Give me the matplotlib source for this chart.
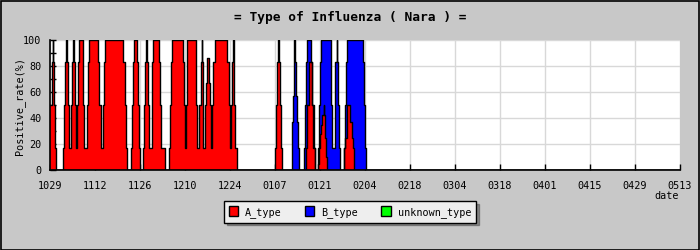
import numpy as np
import matplotlib
matplotlib.use("Agg")
import matplotlib.pyplot as plt
from matplotlib.patches import Patch, Rectangle

# days counted from 10/29, value = positive rate (%) holding until next break
a_days = [0.0, 0.6, 0.85, 0.95, 1.35, 1.6, 1.85,
          4.15, 4.45, 4.75, 5.05, 5.15, 5.6, 5.8,
          6.0, 6.45, 6.75, 7.25, 7.35, 7.7, 8.0,
          8.3, 8.5, 8.7, 9.1, 10.15, 10.35, 10.65,
          10.95, 11.5, 11.8, 12.25, 15.05, 15.35, 15.85,
          16.2, 16.4, 16.8, 17.2, 22.8, 23.25, 23.65, 24.05,
          25.1, 25.55, 25.95, 26.25, 27.2, 27.4, 27.7, 28.0,
          29.05, 29.35, 29.55, 29.95, 30.05, 30.6, 30.8,
          31.45, 31.6, 31.75, 32.15, 33.95, 34.25, 34.55, 35.85,
          37.05, 37.35, 37.6, 38.1, 41.5, 41.75, 41.95,
          42.15, 42.35, 42.5, 42.75, 45.35, 45.55, 45.8,
          46.3, 46.5, 46.95, 47.25, 47.35, 47.55, 47.75,
          47.95, 48.35, 48.65, 48.95, 49.35, 49.85, 50.15,
          50.35, 50.55, 50.85, 51.4, 55.2, 55.7, 56.05,
          56.25, 56.45, 56.75, 57.05, 57.2, 57.4, 57.7, 58.15,
          70.05, 70.35, 70.65, 71.05, 71.2, 71.55, 71.85, 72.15,
          79.65, 80.05, 80.45, 81.5, 81.95, 82.55,
          83.35, 83.65, 84.05, 84.35, 84.75, 85.15, 85.25, 85.65, 85.95, 86.15,
          91.35, 91.85, 92.25, 92.45, 93.45, 93.85, 94.15, 94.45, 196.0]
a_vals = [50, 83, 100, 83, 50, 17, 0,
          17, 50, 83, 100, 83, 50, 17,
          17, 50, 83, 100, 83, 50, 17,
          17, 50, 83, 100, 83, 50, 17,
          17, 50, 83, 100, 83, 50, 17,
          17, 50, 83, 100, 83, 50, 17, 0,
          17, 50, 83, 100, 83, 50, 17, 0,
          17, 50, 83, 100, 83, 50, 17,
          17, 50, 83, 100, 83, 50, 17, 0,
          17, 50, 83, 100, 83, 50, 17,
          17, 50, 83, 100, 83, 50, 17,
          17, 50, 83, 100, 83, 50, 17,
          17, 50, 67, 86, 67, 50, 17,
          17, 50, 83, 100, 83, 50, 17,
          17, 50, 83, 100, 83, 50, 17, 0,
          17, 50, 83, 100, 83, 50, 17, 0,
          17, 50, 83, 50, 17, 0,
          5, 17, 28, 35, 42, 50, 42, 25, 10, 0,
          17, 25, 37, 50, 37, 25, 17, 0, 0]

b_days = [0.0,
          75.15, 75.4, 75.6, 75.8, 76.0, 76.1, 76.55, 76.85, 77.15, 77.45,
          79.15, 79.45, 79.65, 80.05, 81.05, 81.65, 82.05, 82.35,
          83.25, 83.55, 83.85, 84.3, 87.3, 87.55, 87.85,
          88.25, 88.55, 88.75, 89.15, 89.25, 89.65, 89.95, 90.15,
          91.35, 91.65, 91.95, 92.25, 97.35, 97.55, 97.85, 98.25, 196.0]
b_vals = [0,
          17, 37, 57, 83, 100, 83, 57, 37, 17, 0,
          17, 50, 83, 100, 83, 50, 17, 0,
          17, 50, 83, 100, 83, 50, 17,
          17, 50, 83, 100, 83, 50, 17, 0,
          17, 50, 83, 100, 83, 50, 17, 0, 0]

u_days = [0.0, 196.0]
u_vals = [0, 0]

tick_labels = ["1029", "1112", "1126", "1210", "1224", "0107", "0121",
               "0204", "0218", "0304", "0318", "0401", "0415", "0429", "0513"]

MONO = "DejaVu Sans Mono"
BG = "#c8c8c8"

fig = plt.figure(figsize=(7, 2.5), dpi=100, facecolor=BG)
ax = fig.add_axes([50 / 700, 80 / 250, 630 / 700, 130 / 250])
ax.set_facecolor("white")

series = [
    (u_days, u_vals, "#00ff00"),
    (b_days, b_vals, "#0000ff"),
    (a_days, a_vals, "#ff0000"),
]
for days, vals, color in series:
    ax.fill_between(days, vals, step="post", color=color, linewidth=0, zorder=2)
    ax.step(days, vals, where="post", color="black", linewidth=1.0, zorder=3)

ax.set_xlim(0, 196)
ax.set_ylim(0, 100)
ax.set_xticks(np.arange(0, 197, 14))
ax.set_xticklabels(tick_labels, family=MONO, fontsize=7.3)
ax.set_yticks(np.arange(0, 101, 20))
ax.set_yticks(np.arange(0, 101, 10), minor=True)
ax.set_yticklabels([str(v) for v in range(0, 101, 20)], family=MONO, fontsize=7.3)
ax.tick_params(direction="in", length=4, width=1, color="black")
ax.tick_params(axis="y", which="minor", direction="in", length=4, width=1)
ax.tick_params(axis="x", pad=8)
ax.tick_params(axis="y", pad=6)

ax.grid(True, which="major", color="#d8d8d8", linewidth=1)
ax.set_axisbelow(True)
for side in ("top", "right"):
    ax.spines[side].set_visible(False)
for side in ("left", "bottom"):
    ax.spines[side].set_linewidth(1.2)
    ax.spines[side].set_zorder(4)

fig.text(0.5, 1 - 18 / 250, "= Type of Influenza ( Nara ) =", ha="center",
         va="center", family=MONO, fontsize=9.3, fontweight="bold")
fig.text(20 / 700, 1 - 106 / 250, "Positive_rate(%)", rotation=90,
         ha="center", va="center", family=MONO, fontsize=7.3)
fig.text(679 / 700, 1 - 196 / 250, "date", ha="right", va="center",
         family=MONO, fontsize=7.3)

handles = [
    Patch(facecolor="#ff0000", edgecolor="black", label="A_type"),
    Patch(facecolor="#0000ff", edgecolor="black", label="B_type"),
    Patch(facecolor="#00ff00", edgecolor="black", label="unknown_type"),
]
leg = fig.legend(handles=handles, loc="center", bbox_to_anchor=(350 / 700, 1 - 212 / 250),
                 ncol=3, fancybox=False, shadow=True, framealpha=1,
                 facecolor="#eeeeee", edgecolor="black",
                 prop={"family": MONO, "size": 7.3},
                 handlelength=0.9, handleheight=1.1, handletextpad=0.7,
                 columnspacing=2.3, borderpad=0.5)
leg.get_frame().set_linewidth(1)

fig.patches.append(Rectangle((0.001, 0.002), 0.998, 0.996, transform=fig.transFigure,
                             fill=False, edgecolor="black", linewidth=1.2))

fig.savefig("out.png", dpi=100, facecolor=BG)
